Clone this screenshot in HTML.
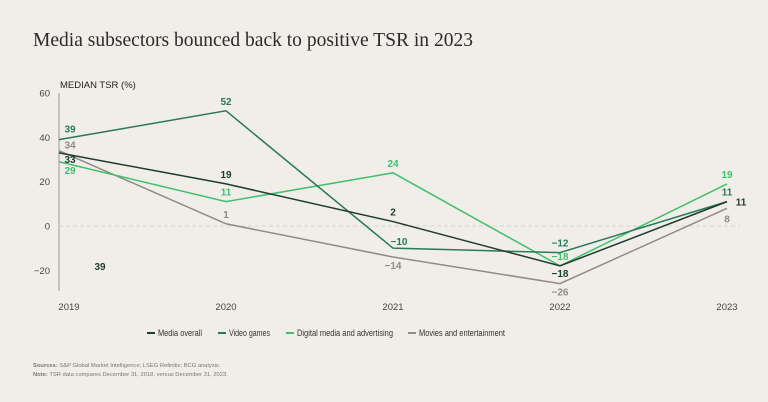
<!DOCTYPE html>
<html><head><meta charset="utf-8"><style>
html,body{margin:0;padding:0;background:#f1eeea;}
svg{display:block;font-family:"Liberation Sans",sans-serif;}
</style></head><body>
<svg id="chart" width="768" height="402" viewBox="0 0 768 402">
<rect width="768" height="402" fill="#f1eeea"/>
<text x="33" y="46" font-family="'Liberation Serif',serif" font-size="20.5" fill="#2b2b2b" textLength="440" lengthAdjust="spacingAndGlyphs">Media subsectors bounced back to positive TSR in 2023</text>
<text x="60" y="88" font-size="9.5" fill="#222">MEDIAN TSR (%)</text>
<g id="axes"></g>
<g id="series"></g>
<g id="labels"></g>
<text x="100" y="270" font-size="10" font-weight="bold" fill="#1d3c2c" text-anchor="middle">39</text>
<g id="legend" font-size="9" fill="#333"></g>
<text x="33" y="367" font-size="5.8" fill="#777"><tspan font-weight="bold">Sources:</tspan> S&amp;P Global Market Intelligence; LSEG Refinitiv; BCG analysis.</text>
<text x="33" y="376" font-size="5.8" fill="#777"><tspan font-weight="bold">Note:</tspan> TSR data compares December 31, 2018, versus December 31, 2023.</text>
</svg>
<script>
const years = ["2019","2020","2021","2022","2023"];
const seriesNames = ["Media overall","Video games","Digital media and advertising","Movies and entertainment"];
const mediaOverall = [33,19,2,-18,11];
const videoGames = [39,52,-10,-12,11];
const digitalMedia = [29,11,24,-18,19];
const moviesEnt = [34,1,-14,-26,8];
const yTicks = [60,40,20,0,-20];

const colors = ["#1d3c2c","#2a7a58","#3fbf6f","#8f8c88"];
// label offsets (layout, not data): [dx, dy] per point
const offs = [
  [[11,10],[0,-6],[0,-6],[0,11],[14,4]],
  [[11,-7],[0,-6],[6,-3],[0,-6],[0,-6]],
  [[11,12],[0,-6],[0,-6],[0,-6],[0,-6]],
  [[11,-2],[0,-6],[0,12],[0,12],[0,14]]
];
const allSeries = [mediaOverall, videoGames, digitalMedia, moviesEnt];
const NS = "http://www.w3.org/2000/svg";
const x = i => 59 + i * (727 - 59) / (years.length - 1);
const y = v => 226 - v * 2.215;
function mk(tag, attrs, parent){const e=document.createElementNS(NS,tag);for(const k in attrs)e.setAttribute(k,attrs[k]);parent.appendChild(e);return e;}
const axes=document.getElementById('axes'), ser=document.getElementById('series'), lab=document.getElementById('labels'), leg=document.getElementById('legend');

let axl = mk('line',{x1:59,x2:59,y1:93,y2:291,stroke:'#999','stroke-width':1},axes);


let zl = mk('line',{x1:59,x2:740,y1:y(0),y2:y(0),stroke:'#d6d3cf','stroke-width':1,'stroke-dasharray':'4,3'},axes);


yTicks.forEach(t=>{
  const e=mk('text',{x:50,y:y(t)+3.5,'text-anchor':'end','font-size':9.5,fill:'#444'},axes);
  e.textContent = t<0 ? '\u2212'+Math.abs(t) : String(t);
  
  
});
years.forEach((yr,i)=>{
  const e=mk('text',{x:x(i)+(i==0?10:0),y:310,'text-anchor':'middle','font-size':9.5,fill:'#444'},axes);
  e.textContent=yr;
  
  
});
const order=[3,2,1,0];
order.forEach(s=>{
  const d=allSeries[s].map((v,i)=>(i?'L':'M')+x(i)+','+y(v)).join(' ');
  const p=mk('path',{d:d,fill:'none',stroke:colors[s],'stroke-width':1.5},ser);
  
  
});
order.forEach(s=>{
  allSeries[s].forEach((v,i)=>{
    const o=offs[s][i];
    const t=mk('text',{x:x(i)+o[0],y:y(v)+o[1],'text-anchor':'middle','font-size':10,'font-weight':'bold',fill:colors[s]},lab);
    t.textContent = v<0 ? '\u2212'+Math.abs(v) : String(v);
    
    
  });
});
const legX=[147,218,286,408];
const legW=[44,41,96,86];
seriesNames.forEach((n,s)=>{
  const g=mk('g',{},leg);
  
  
  mk('line',{x1:legX[s],x2:legX[s]+8,y1:333,y2:333,stroke:colors[s],'stroke-width':2},g);
  const t=mk('text',{x:legX[s]+11,y:336,'font-size':9,fill:'#333',textLength:legW[s],lengthAdjust:'spacingAndGlyphs'},g);
  t.textContent=n;
});
</script>
</body></html>
